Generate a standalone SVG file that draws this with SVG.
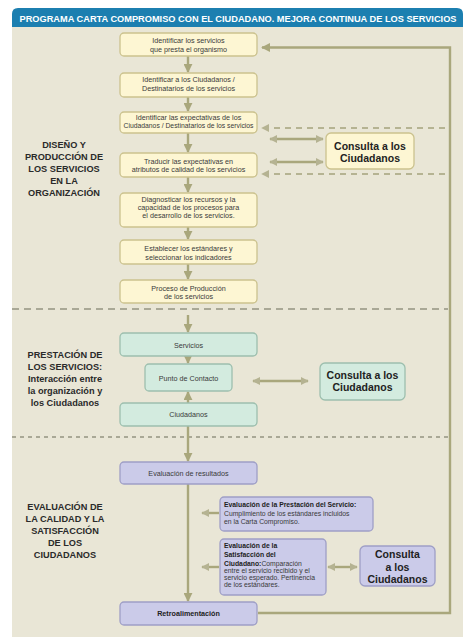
<svg xmlns="http://www.w3.org/2000/svg" width="471" height="644" viewBox="0 0 471 644">
<defs>
<marker id="ah" viewBox="0 0 10 10" refX="9" refY="5" markerWidth="9" markerHeight="9" markerUnits="userSpaceOnUse" orient="auto-start-reverse">
<path d="M0,0 L10,5 L0,10 z" fill="#a9a77c"/>
</marker>
<marker id="ahs" viewBox="0 0 10 10" refX="9" refY="5" markerWidth="8" markerHeight="8" markerUnits="userSpaceOnUse" orient="auto-start-reverse">
<path d="M0,0 L10,5 L0,10 z" fill="#b5b392"/>
</marker>
</defs>
<style>
.y{fill:#fdf6d3;stroke:#cbc28e;stroke-width:1.3}
.g{fill:#d3ebdf;stroke:#9dbfae;stroke-width:1.3}
.l{fill:#cbcbe9;stroke:#9f9fc6;stroke-width:1.3}
.t{font-family:"Liberation Sans",Arial,sans-serif;font-size:7.2px;fill:#3a3a3a;text-anchor:middle}
.tl{font-family:"Liberation Sans",Arial,sans-serif;font-size:6.8px;fill:#3a3a3a}
.b{font-weight:bold;fill:#222}
.c{font-family:"Liberation Sans",Arial,sans-serif;font-size:10.5px;font-weight:bold;fill:#222;text-anchor:middle}
.s{font-family:"Liberation Sans",Arial,sans-serif;font-size:9.2px;font-weight:bold;fill:#2a2a2a;text-anchor:middle}
.ln{fill:none;stroke:#a9a77c;stroke-width:2.4}
.dl{fill:none;stroke:#b5b392;stroke-width:2;stroke-dasharray:6,5}
.sep{fill:none;stroke:#a9a896;stroke-width:2}
</style>
<rect x="0" y="0" width="471" height="644" fill="#ffffff"/>
<rect x="12" y="27" width="451" height="610" fill="#e9e6d6"/>
<path d="M12,27 L12,14 Q12,8 18,8 L457,8 Q463,8 463,14 L463,27 z" fill="#1c7fb0"/>
<text x="238" y="21.5" font-family="Liberation Sans,Arial,sans-serif" font-size="9.2" font-weight="bold" fill="#ffffff" text-anchor="middle" textLength="437" lengthAdjust="spacingAndGlyphs">PROGRAMA CARTA COMPROMISO CON EL CIUDADANO. MEJORA CONTINUA DE LOS SERVICIOS</text>

<g id="connectors">
<line class="sep" x1="12" y1="309" x2="448" y2="309" stroke-dasharray="7,5"/>
<line class="sep" x1="12" y1="437" x2="448" y2="437" stroke-dasharray="4,4"/>
<line class="ln" x1="188" y1="56" x2="188" y2="72" marker-end="url(#ah)"/>
<line class="ln" x1="188" y1="97" x2="188" y2="111" marker-end="url(#ah)"/>
<line class="ln" x1="188" y1="133" x2="188" y2="152" marker-end="url(#ah)"/>
<line class="ln" x1="188" y1="177" x2="188" y2="192" marker-end="url(#ah)"/>
<line class="ln" x1="188" y1="227" x2="188" y2="239" marker-end="url(#ah)"/>
<line class="ln" x1="188" y1="264" x2="188" y2="279" marker-end="url(#ah)"/>
<line class="ln" x1="188" y1="315" x2="188" y2="332" marker-end="url(#ah)"/>
<line class="ln" x1="188" y1="356" x2="188" y2="363" marker-end="url(#ah)"/>
<line class="ln" x1="188" y1="403" x2="188" y2="392" marker-end="url(#ah)"/>
<line class="ln" x1="188" y1="426" x2="188" y2="461" marker-end="url(#ah)"/>
<line class="ln" x1="188" y1="484" x2="188" y2="601" marker-end="url(#ah)"/>
<polyline class="ln" points="258,613 450,613 450,47.5 262,47.5" marker-end="url(#ah)"/>
<line class="dl" x1="445" y1="128" x2="262" y2="128" marker-end="url(#ahs)"/>
<line class="dl" x1="445" y1="174" x2="262" y2="174" marker-end="url(#ahs)"/>
<line class="ln" x1="270" y1="139" x2="323" y2="139" stroke-width="2" marker-start="url(#ahs)" marker-end="url(#ahs)"/>
<line class="ln" x1="270" y1="162" x2="323" y2="162" stroke-width="2" marker-start="url(#ahs)" marker-end="url(#ahs)"/>
<line class="ln" x1="253" y1="381" x2="308" y2="381" stroke-width="2" marker-start="url(#ahs)" marker-end="url(#ahs)"/>
<line class="ln" x1="219" y1="513" x2="202" y2="513" stroke-width="2" marker-end="url(#ahs)"/>
<line class="ln" x1="219" y1="567" x2="202" y2="567" stroke-width="2" marker-end="url(#ahs)"/>
<line class="ln" x1="328" y1="567" x2="357" y2="567" stroke-width="3" marker-start="url(#ahs)" marker-end="url(#ahs)"/>
</g>

<g id="label-diseno">
<text class="s" x="64" y="148">DISEÑO Y</text>
<text class="s" x="64" y="160">PRODUCCIÓN DE</text>
<text class="s" x="64" y="172">LOS SERVICIOS</text>
<text class="s" x="64" y="184">EN LA</text>
<text class="s" x="64" y="196">ORGANIZACIÓN</text>
</g>
<g id="label-prestacion">
<text class="s" x="65" y="358">PRESTACIÓN DE</text>
<text class="s" x="65" y="370">LOS SERVICIOS:</text>
<text class="s" x="65" y="382">Interacción entre</text>
<text class="s" x="65" y="394">la organización y</text>
<text class="s" x="65" y="406">los Ciudadanos</text>
</g>
<g id="label-evaluacion">
<text class="s" x="65" y="510">EVALUACIÓN DE</text>
<text class="s" x="65" y="522">LA CALIDAD Y LA</text>
<text class="s" x="65" y="534">SATISFACCIÓN</text>
<text class="s" x="65" y="546">DE LOS</text>
<text class="s" x="65" y="558">CIUDADANOS</text>
</g>

<g id="n1"><rect class="y" x="120" y="33" width="137" height="23" rx="4"/>
<text class="t" x="188.5" y="42.5">Identificar los servicios</text>
<text class="t" x="188.5" y="51.5">que presta  el organismo</text></g>
<g id="n2"><rect class="y" x="120" y="73" width="137" height="24" rx="4"/>
<text class="t" x="188.5" y="82">Identificar a los Ciudadanos /</text>
<text class="t" x="188.5" y="91">Destinatarios de los servicios</text></g>
<g id="n3"><rect class="y" x="120" y="112" width="137" height="21" rx="4"/>
<text class="t" x="188.5" y="119.5">Identificar las expectativas de los</text>
<text class="t" x="188.5" y="128" textLength="130" lengthAdjust="spacingAndGlyphs">Ciudadanos / Destinatarios de los servicios</text></g>
<g id="n4"><rect class="y" x="120" y="153" width="137" height="24" rx="4"/>
<text class="t" x="188.5" y="163.5">Traducir las expectativas en</text>
<text class="t" x="188.5" y="172">atributos de calidad de los servicios</text></g>
<g id="n5"><rect class="y" x="120" y="193" width="137" height="34" rx="4"/>
<text class="t" x="188.5" y="202">Diagnosticar los recursos y la</text>
<text class="t" x="188.5" y="210">capacidad de los procesos para</text>
<text class="t" x="188.5" y="218">el desarrollo de los servicios.</text></g>
<g id="n6"><rect class="y" x="120" y="240" width="137" height="24" rx="4"/>
<text class="t" x="188.5" y="250.5">Establecer los estándares y</text>
<text class="t" x="188.5" y="259.5">seleccionar los indicadores</text></g>
<g id="n7"><rect class="y" x="120" y="280" width="137" height="23" rx="4"/>
<text class="t" x="188.5" y="290.5">Proceso de Producción</text>
<text class="t" x="188.5" y="298.5">de los servicios</text></g>
<g id="consulta1"><rect class="y" x="326" y="133" width="88" height="36" rx="5"/>
<text class="c" x="370" y="150">Consulta a los</text>
<text class="c" x="370" y="162">Ciudadanos</text></g>

<g id="servicios"><rect class="g" x="120" y="333" width="137" height="23" rx="4"/>
<text class="t" x="188.5" y="347.5">Servicios</text></g>
<g id="punto"><rect class="g" x="145" y="364" width="87" height="27" rx="4"/>
<text class="t" x="188.5" y="380.5">Punto de Contacto</text></g>
<g id="ciudadanos"><rect class="g" x="120" y="403" width="137" height="23" rx="4"/>
<text class="t" x="188.5" y="417">Ciudadanos</text></g>
<g id="consulta2"><rect class="g" x="320" y="363" width="85" height="37" rx="5"/>
<text class="c" x="362.5" y="379">Consulta a los</text>
<text class="c" x="362.5" y="391">Ciudadanos</text></g>

<g id="evaluacion"><rect class="l" x="120" y="462" width="137" height="22" rx="4"/>
<text class="t" x="188.5" y="475.5">Evaluación  de resultados</text></g>
<g id="eval-prestacion"><rect class="l" x="220" y="497" width="153" height="34" rx="4"/>
<text class="tl" x="224" y="507"><tspan class="b">Evaluación de la Prestación del Servicio:</tspan></text>
<text class="tl" x="224" y="515.5">Cumplimiento de los estándares incluidos</text>
<text class="tl" x="224" y="524">en la Carta Compromiso.</text></g>
<g id="eval-satisfaccion"><rect class="l" x="220" y="539" width="106" height="56" rx="4"/>
<text class="tl" x="224" y="547.5"><tspan class="b">Evaluación de la</tspan></text>
<text class="tl" x="224" y="557"><tspan class="b">Satisfacción del</tspan></text>
<text class="tl" x="224" y="566"><tspan class="b">Ciudadano:</tspan>Comparación</text>
<text class="tl" x="224" y="573">entre el servicio recibido y el</text>
<text class="tl" x="224" y="580">servicio esperado. Pertinencia</text>
<text class="tl" x="224" y="587">de los estándares.</text></g>
<g id="consulta3"><rect class="l" x="360" y="546" width="75" height="40" rx="5"/>
<text class="c" x="397.5" y="558">Consulta</text>
<text class="c" x="397.5" y="570.5">a los</text>
<text class="c" x="397.5" y="583">Ciudadanos</text></g>
<g id="retro"><rect class="l" x="120" y="602" width="137" height="23" rx="4"/>
<text class="t b" x="188.5" y="615.5">Retroalimentación</text></g>
</svg>
